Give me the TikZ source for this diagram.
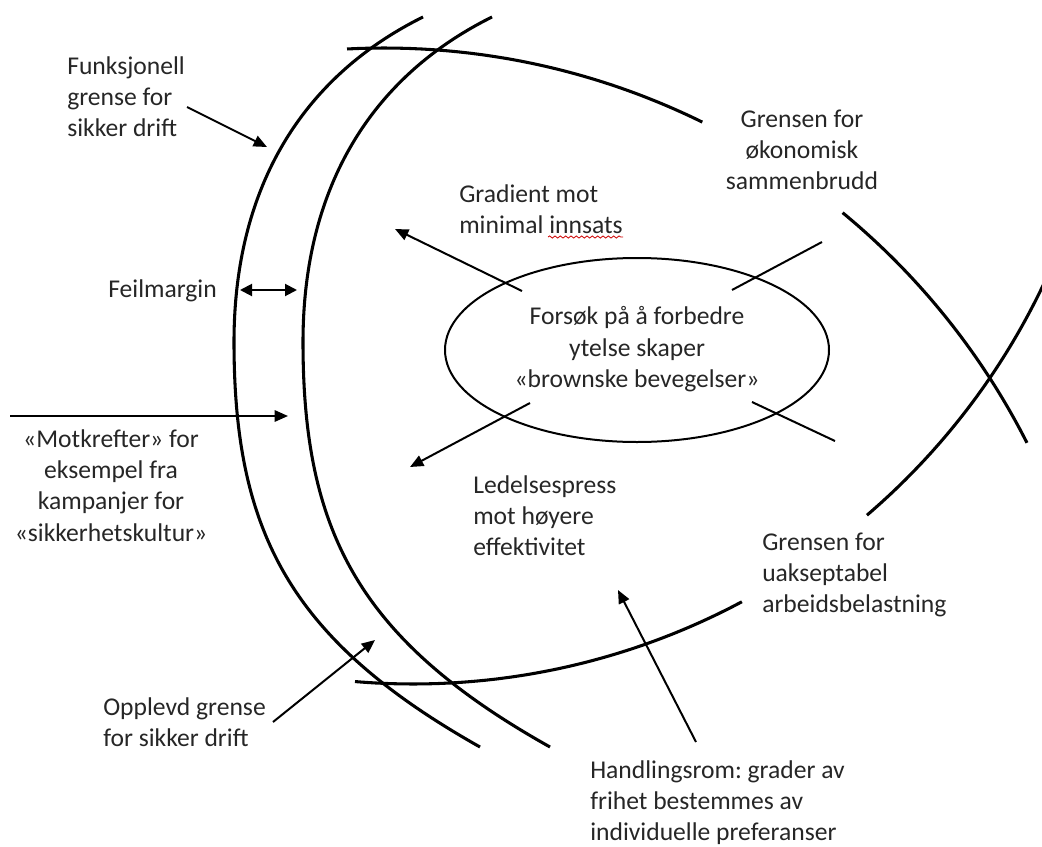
\documentclass[tikz,border=0pt]{standalone}
\usepackage{fontspec}
\setmainfont{Carlito}
\usetikzlibrary{shapes.geometric,arrows.meta,decorations.pathmorphing}
\frenchspacing
\newcommand\mylabl[1]{\begin{tabular}[t]{@{}l@{}}#1\end{tabular}}
\newcommand\mylabc[1]{\begin{tabular}[t]{@{}c@{}}#1\end{tabular}}
\begin{document}
\begin{tikzpicture}[x=0.75pt,y=-0.75pt,
  txt/.style={inner sep=0pt, text=black!85, font=\fontsize{19.2}{23.6}\selectfont},
  bound/.style={line width=2.3pt, line cap=butt},
  conn/.style={line width=1.5pt},
  arr/.style={conn, -{Triangle[length=10pt,width=8.5pt]}},
  darr/.style={conn, {Triangle[length=9pt,width=9pt]}-{Triangle[length=9pt,width=9pt]}},
]
\useasboundingbox (0,0) rectangle (1042,846);
\clip (0,0) rectangle (1042,846);

% boundaries of safe operation (functional and perceived)
\draw[bound] (423,17) .. controls (300,78) and (234,190) .. (234,342)
                      .. controls (234,532) and (290,640) .. (480,747);
\draw[bound] (492,17) .. controls (369,78) and (303,190) .. (303,342)
                      .. controls (303,532) and (359,640) .. (550,747);
% economic collapse boundary
\draw[bound] plot[domain=-92.94:-63.8, samples=60] ({384+721*cos(\x)}, {769+721*sin(\x)});
\draw[bound] plot[domain=-50.5:-26.9, samples=60] ({384+721*cos(\x)}, {769+721*sin(\x)});
% unacceptable workload boundary
\draw[bound] plot[domain=94.76:61.93, samples=60] ({413+699*cos(\x)}, {-15+699*sin(\x)});
\draw[bound] plot[domain=49.43:18, samples=60] ({413+698*cos(\x)}, {-15+698*sin(\x)});

% ellipse
\node[ellipse, draw, line width=1.5pt, minimum width=288pt, minimum height=138pt, inner sep=0pt,
      text=black!85, font=\fontsize{19.2}{23.6}\selectfont] (el) at (637,350)
  {\begin{tabular}{@{}c@{}}Forsøk på å forbedre\\ytelse skaper\\«brownske bevegelser»\end{tabular}};

% labels
\node[txt, anchor=base west] (funk) at (67,74) {\mylabl{Funksjonell\\grense for\\sikker drift}};
\node[txt, anchor=base west] (feil) at (108,297) {Feilmargin};
\node[txt, anchor=base] (mot) at (111,447) {\mylabc{«Motkrefter» for\\eksempel fra\\kampanjer for\\«sikkerhetskultur»}};
\node[txt, anchor=base west] (grad) at (459,202) {\mylabl{Gradient mot\\minimal innsats}};
\node[txt, anchor=base] (oko) at (802,127) {\mylabc{Grensen for\\økonomisk\\sammenbrudd}};
\node[txt, anchor=base west] (led) at (473,493) {\mylabl{Ledelsespress\\mot høyere\\effektivitet}};
\node[txt, anchor=base west] (uak) at (762,550) {\mylabl{Grensen for\\uakseptabel\\arbeidsbelastning}};
\node[txt, anchor=base west] (opp) at (103,715) {\mylabl{Opplevd grense\\for sikker drift}};
\node[txt, anchor=base west] (hand) at (590,778) {\mylabl{Handlingsrom: grader av\\frihet bestemmes av\\individuelle preferanser}};

% spell-check squiggle
\coordinate (sqA) at (548,237);
\coordinate (sqB) at (623,237);
\draw[red!80!black, line width=0.6pt, decorate, decoration={snake, segment length=4pt, amplitude=0.8pt}] (sqA) -- (sqB);

% connector end points
\coordinate (funkA) at (187,107);  \coordinate (funkB) at (267,147);
\coordinate (feilA) at (240,290);  \coordinate (feilB) at (297,290);
\coordinate (motA) at (10,416);    \coordinate (motB) at (288,416);
\coordinate (gradA) at (522,291);  \coordinate (gradB) at (395,229);
\coordinate (eA) at (822,242);     \coordinate (eB) at (732,290);
\coordinate (fA) at (752,402);     \coordinate (fB) at (835,441);
\coordinate (ledA) at (530,403);   \coordinate (ledB) at (410,467);
\coordinate (oppA) at (273,722);   \coordinate (oppB) at (375,640);
\coordinate (handA) at (696,742);  \coordinate (handB) at (618,590);

\draw[arr] (funkA) -- (funkB);
\draw[darr] (feilA) -- (feilB);
\draw[arr] (motA) -- (motB);
\draw[arr] (gradA) -- (gradB);
\draw[conn] (eA) -- (eB);
\draw[conn] (fA) -- (fB);
\draw[arr] (ledA) -- (ledB);
\draw[arr] (oppA) -- (oppB);
\draw[arr] (handA) -- (handB);
\end{tikzpicture}
\end{document}
